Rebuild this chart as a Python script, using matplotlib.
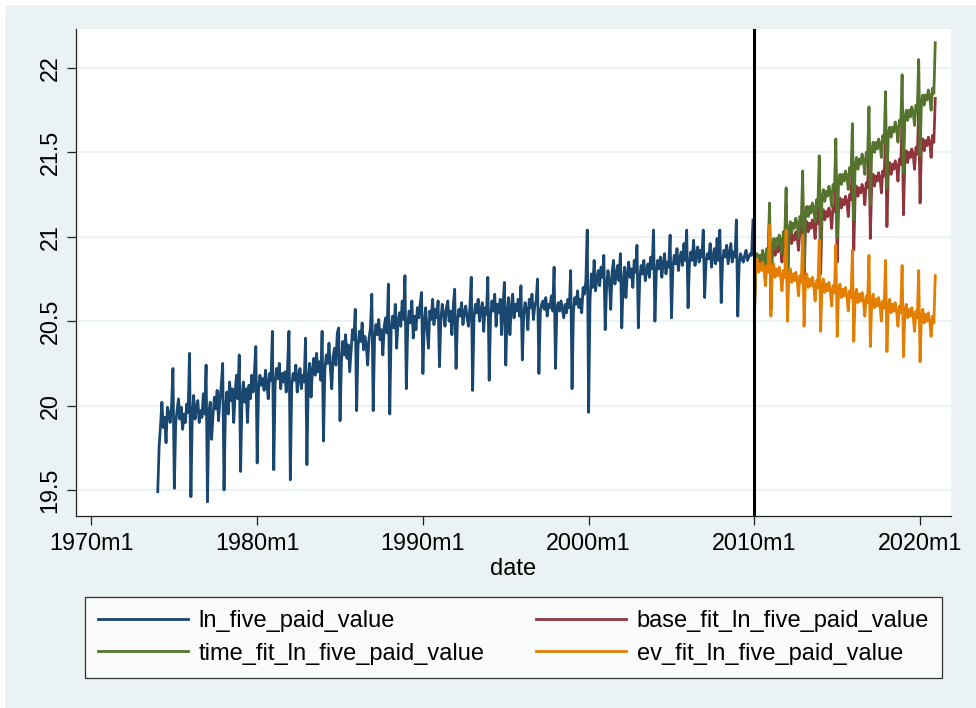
import numpy as np
import matplotlib
matplotlib.use("Agg")
from matplotlib import pyplot as plt
from matplotlib.patches import Rectangle

plt.rcParams['font.family'] = ['Liberation Sans', 'DejaVu Sans']

# monthly data, Stata %tm style: month index since 1960m1
hist_start = "1974m1"
fcst_start = "2010m1"

# ln_five_paid_value, 1974m1 .. 2009m12 (one row per year, Jan..Dec)
ln_five_paid_value = [
    19.49, 19.76, 19.88, 20.02, 19.87, 19.93, 19.78, 19.99, 19.95, 19.90, 20.00, 20.22,  # 1974
    19.51, 19.90, 19.97, 20.04, 19.92, 19.99, 19.86, 19.95, 19.90, 20.01, 19.96, 20.31,  # 1975
    19.46, 19.94, 20.06, 19.92, 19.99, 20.03, 19.90, 19.97, 19.93, 20.07, 19.95, 20.24,  # 1976
    19.43, 19.96, 20.02, 19.80, 19.94, 20.05, 19.98, 20.09, 19.91, 20.03, 20.12, 20.25,  # 1977
    19.50, 19.98, 20.08, 19.95, 20.14, 20.03, 20.10, 19.90, 20.07, 20.18, 20.04, 20.30,  # 1978
    19.61, 20.05, 20.14, 20.02, 20.10, 19.90, 20.12, 20.04, 20.18, 20.08, 20.20, 20.35,  # 1979
    19.66, 20.10, 20.18, 20.12, 20.16, 20.09, 20.21, 20.13, 20.04, 20.19, 20.15, 20.44,  # 1980
    19.62, 20.13, 20.22, 20.16, 20.25, 20.10, 20.19, 20.14, 20.20, 20.08, 20.23, 20.44,  # 1981
    19.56, 20.12, 20.19, 20.15, 20.24, 20.08, 20.17, 20.22, 20.10, 20.18, 20.14, 20.40,  # 1982
    19.65, 20.16, 20.25, 20.05, 20.21, 20.28, 20.18, 20.31, 20.20, 20.26, 20.15, 20.44,  # 1983
    19.79, 20.21, 20.30, 20.25, 20.37, 20.22, 20.10, 20.29, 20.34, 20.24, 20.43, 20.46,  # 1984
    19.91, 20.26, 20.38, 20.30, 20.42, 20.28, 20.36, 20.20, 20.33, 20.45, 20.39, 20.57,  # 1985
    19.97, 20.35, 20.44, 20.38, 20.49, 20.33, 20.41, 20.36, 20.24, 20.40, 20.46, 20.66,  # 1986
    19.97, 20.40, 20.48, 20.42, 20.51, 20.39, 20.45, 20.30, 20.47, 20.52, 20.43, 20.72,  # 1987
    19.95, 20.45, 20.53, 20.46, 20.60, 20.34, 20.50, 20.55, 20.47, 20.62, 20.51, 20.77,  # 1988
    20.10, 20.47, 20.56, 20.49, 20.62, 20.40, 20.53, 20.45, 20.58, 20.52, 20.60, 20.67,  # 1989
    20.19, 20.49, 20.58, 20.45, 20.34, 20.56, 20.51, 20.63, 20.48, 20.57, 20.52, 20.62,  # 1990
    20.23, 20.51, 20.60, 20.54, 20.47, 20.58, 20.62, 20.50, 20.56, 20.42, 20.59, 20.69,  # 1991
    20.22, 20.50, 20.57, 20.53, 20.61, 20.48, 20.55, 20.59, 20.52, 20.47, 20.58, 20.76,  # 1992
    20.09, 20.52, 20.60, 20.55, 20.63, 20.50, 20.57, 20.61, 20.44, 20.58, 20.54, 20.76,  # 1993
    20.15, 20.53, 20.62, 20.56, 20.66, 20.47, 20.60, 20.55, 20.63, 20.42, 20.59, 20.73,  # 1994
    20.24, 20.55, 20.64, 20.42, 20.58, 20.66, 20.52, 20.60, 20.56, 20.63, 20.53, 20.71,  # 1995
    20.27, 20.54, 20.61, 20.57, 20.45, 20.63, 20.58, 20.66, 20.51, 20.59, 20.62, 20.75,  # 1996
    20.19, 20.55, 20.60, 20.62, 20.57, 20.64, 20.53, 20.60, 20.58, 20.65, 20.56, 20.82,  # 1997
    20.22, 20.58, 20.61, 20.56, 20.62, 20.57, 20.52, 20.60, 20.55, 20.63, 20.58, 20.80,  # 1998
    20.10, 20.56, 20.64, 20.60, 20.68, 20.58, 20.63, 20.55, 20.70, 20.66, 20.74, 21.04,  # 1999
    19.96, 20.62, 20.78, 20.70, 20.86, 20.68, 20.75, 20.80, 20.71, 20.82, 20.76, 20.89,  # 2000
    20.45, 20.70, 20.80, 20.74, 20.57, 20.79, 20.86, 20.72, 20.77, 20.83, 20.74, 20.90,  # 2001
    20.46, 20.73, 20.82, 20.64, 20.78, 20.85, 20.76, 20.81, 20.70, 20.86, 20.79, 20.95,  # 2002
    20.46, 20.75, 20.83, 20.78, 20.86, 20.74, 20.80, 20.84, 20.76, 20.88, 20.81, 21.04,  # 2003
    20.50, 20.79, 20.86, 20.81, 20.88, 20.76, 20.84, 20.90, 20.78, 20.85, 20.82, 21.01,  # 2004
    20.52, 20.82, 20.89, 20.84, 20.93, 20.80, 20.87, 20.91, 20.83, 20.96, 20.86, 21.04,  # 2005
    20.58, 20.84, 20.91, 20.86, 20.98, 20.83, 20.89, 20.94, 20.85, 20.92, 20.88, 21.04,  # 2006
    20.64, 20.85, 20.90, 20.87, 20.96, 20.82, 20.88, 20.93, 20.84, 20.99, 20.86, 21.04,  # 2007
    20.61, 20.86, 20.92, 20.88, 20.95, 20.84, 20.90, 20.96, 20.85, 20.91, 20.88, 21.10,  # 2008
    20.53, 20.84, 20.90, 20.87, 20.85, 20.89, 20.92, 20.86, 20.88, 20.90, 20.89, 21.10,  # 2009
]

# fitted values, 2010m1 .. 2020m12
base_fit_ln_five_paid_value = [
    20.50, 20.84, 20.88, 20.82, 20.87, 20.84, 20.90, 20.86, 20.78, 20.90, 20.87, 21.12,  # 2010
    20.57, 20.91, 20.95, 20.89, 20.94, 20.91, 20.97, 20.93, 20.85, 20.97, 20.94, 21.19,  # 2011
    20.64, 20.98, 21.02, 20.96, 21.01, 20.98, 21.03, 21.00, 20.92, 21.04, 21.01, 21.26,  # 2012
    20.71, 21.05, 21.09, 21.03, 21.08, 21.05, 21.10, 21.07, 20.99, 21.11, 21.08, 21.33,  # 2013
    20.78, 21.11, 21.16, 21.10, 21.15, 21.12, 21.17, 21.14, 21.05, 21.18, 21.15, 21.40,  # 2014
    20.85, 21.18, 21.23, 21.17, 21.22, 21.19, 21.24, 21.21, 21.12, 21.25, 21.22, 21.47,  # 2015
    20.92, 21.25, 21.30, 21.24, 21.29, 21.26, 21.31, 21.28, 21.19, 21.32, 21.29, 21.54,  # 2016
    20.99, 21.32, 21.37, 21.30, 21.36, 21.33, 21.38, 21.35, 21.26, 21.39, 21.36, 21.61,  # 2017
    21.06, 21.39, 21.44, 21.37, 21.43, 21.40, 21.45, 21.42, 21.33, 21.46, 21.43, 21.68,  # 2018
    21.13, 21.46, 21.51, 21.44, 21.50, 21.47, 21.52, 21.49, 21.40, 21.53, 21.49, 21.75,  # 2019
    21.20, 21.53, 21.58, 21.51, 21.57, 21.54, 21.59, 21.56, 21.47, 21.60, 21.56, 21.82,  # 2020
]

time_fit_ln_five_paid_value = [
    20.53, 20.85, 20.90, 20.83, 20.89, 20.86, 20.92, 20.89, 20.80, 20.93, 20.90, 21.20,  # 2010
    20.63, 20.94, 20.99, 20.93, 20.99, 20.96, 21.01, 20.98, 20.90, 21.03, 20.99, 21.29,  # 2011
    20.72, 21.04, 21.09, 21.02, 21.08, 21.05, 21.11, 21.08, 20.99, 21.12, 21.09, 21.39,  # 2012
    20.81, 21.13, 21.18, 21.12, 21.18, 21.14, 21.20, 21.17, 21.09, 21.22, 21.18, 21.48,  # 2013
    20.91, 21.23, 21.28, 21.21, 21.27, 21.24, 21.30, 21.26, 21.18, 21.31, 21.28, 21.58,  # 2014
    21.00, 21.32, 21.37, 21.31, 21.37, 21.33, 21.39, 21.36, 21.28, 21.41, 21.37, 21.67,  # 2015
    21.10, 21.42, 21.47, 21.40, 21.46, 21.43, 21.49, 21.45, 21.37, 21.50, 21.47, 21.77,  # 2016
    21.19, 21.51, 21.56, 21.50, 21.56, 21.52, 21.58, 21.55, 21.47, 21.60, 21.56, 21.86,  # 2017
    21.29, 21.61, 21.65, 21.59, 21.65, 21.62, 21.68, 21.64, 21.56, 21.69, 21.66, 21.96,  # 2018
    21.38, 21.70, 21.75, 21.69, 21.75, 21.71, 21.77, 21.74, 21.66, 21.78, 21.75, 22.05,  # 2019
    21.48, 21.80, 21.84, 21.78, 21.84, 21.81, 21.87, 21.83, 21.75, 21.88, 21.85, 22.15,  # 2020
]

ev_fit_ln_five_paid_value = [
    20.56, 20.83, 20.87, 20.79, 20.84, 20.80, 20.85, 20.80, 20.71, 20.83, 20.79, 21.07,  # 2010
    20.53, 20.80, 20.84, 20.76, 20.81, 20.77, 20.82, 20.77, 20.68, 20.80, 20.76, 21.04,  # 2011
    20.50, 20.77, 20.81, 20.73, 20.78, 20.74, 20.79, 20.74, 20.65, 20.77, 20.73, 21.01,  # 2012
    20.47, 20.74, 20.78, 20.70, 20.75, 20.71, 20.76, 20.71, 20.62, 20.74, 20.70, 20.98,  # 2013
    20.44, 20.71, 20.75, 20.67, 20.72, 20.68, 20.73, 20.68, 20.59, 20.71, 20.67, 20.95,  # 2014
    20.41, 20.68, 20.72, 20.64, 20.69, 20.65, 20.70, 20.65, 20.56, 20.68, 20.64, 20.92,  # 2015
    20.38, 20.65, 20.69, 20.61, 20.66, 20.62, 20.67, 20.62, 20.53, 20.65, 20.61, 20.89,  # 2016
    20.35, 20.62, 20.66, 20.58, 20.63, 20.59, 20.64, 20.59, 20.50, 20.62, 20.58, 20.86,  # 2017
    20.32, 20.59, 20.63, 20.55, 20.60, 20.56, 20.61, 20.56, 20.47, 20.59, 20.55, 20.83,  # 2018
    20.29, 20.56, 20.60, 20.52, 20.57, 20.53, 20.58, 20.53, 20.44, 20.56, 20.52, 20.80,  # 2019
    20.26, 20.53, 20.57, 20.49, 20.54, 20.50, 20.55, 20.50, 20.41, 20.53, 20.49, 20.77,  # 2020
]

tick_years = [1970, 1980, 1990, 2000, 2010, 2020]
y_ticks = [19.5, 20, 20.5, 21, 21.5, 22]


def tm(s):
    """'1974m1' -> months since 1960m1 (like Stata %tm)."""
    y, m = s.split("m")
    return (int(y) - 1960) * 12 + int(m) - 1


x_hist = tm(hist_start) + np.arange(len(ln_five_paid_value))
x_fcst = tm(fcst_start) + np.arange(len(base_fit_ln_five_paid_value))

navy = "#1a476f"
maroon = "#90353b"
green = "#55752f"
orange = "#e37e00"
bg = "#eaf2f3"

fig = plt.figure(figsize=(9.76, 7.08), dpi=100, facecolor=bg)
# thin white margin at top/left like the export
fig.patches.append(Rectangle((0, 1 - 4 / 708), 1, 4 / 708, transform=fig.transFigure,
                             color="white", zorder=0))
fig.patches.append(Rectangle((0, 0), 4 / 976, 1, transform=fig.transFigure,
                             color="white", zorder=0))

ax = fig.add_axes([76 / 976, 1 - 516 / 708, 875 / 976, 487 / 708])
ax.set_facecolor("white")

lw = 2.0
l_ln, = ax.plot(x_hist, ln_five_paid_value, color=navy, lw=lw, label="ln_five_paid_value")
l_base, = ax.plot(x_fcst, base_fit_ln_five_paid_value, color=maroon, lw=lw,
                  label="base_fit_ln_five_paid_value")
l_time, = ax.plot(x_fcst, time_fit_ln_five_paid_value, color=green, lw=lw,
                  label="time_fit_ln_five_paid_value")
l_ev, = ax.plot(x_fcst, ev_fit_ln_five_paid_value, color=orange, lw=lw,
                label="ev_fit_ln_five_paid_value")

ax.axvline(tm(fcst_start), color="black", lw=2.2, zorder=5)

ax.set_xlim(108.8, 742.4)
ax.set_ylim(19.346, 22.231)

ax.set_yticks(y_ticks)
ax.set_yticklabels([f"{v:g}" for v in y_ticks], rotation=90, va="center")
ax.set_xticks([tm(f"{y}m1") for y in tick_years])
ax.set_xticklabels([f"{y}m1" for y in tick_years])

ax.yaxis.grid(True, color=bg, lw=1.6, zorder=0)
ax.set_axisbelow(True)

for side in ["top", "right"]:
    ax.spines[side].set_visible(False)
for side in ["left", "bottom"]:
    ax.spines[side].set_color("#222222")
    ax.spines[side].set_linewidth(0.9)

ax.tick_params(axis="both", labelsize=16.8, length=6.5, width=0.9, color="#222222")
ax.tick_params(axis="y", pad=4)
ax.tick_params(axis="x", pad=5)

ax.set_xlabel("date", fontsize=17, labelpad=2)

# legend fills row by row in the original: reorder for column-major filling
handles = [l_ln, l_time, l_base, l_ev]
leg = fig.legend(handles, [h.get_label() for h in handles], ncol=2, loc="upper center",
                 bbox_to_anchor=(513.5 / 976, 1 - 597 / 708), borderaxespad=0,
                 fontsize=17, frameon=True, fancybox=False,
                 edgecolor="black", handlelength=3.8, handletextpad=0.45,
                 labelspacing=0.45, borderpad=0.55, columnspacing=2.2)
leg.get_frame().set_linewidth(0.9)
leg.get_frame().set_facecolor("white")

fig.savefig("out.png", dpi=100, facecolor=fig.get_facecolor())
